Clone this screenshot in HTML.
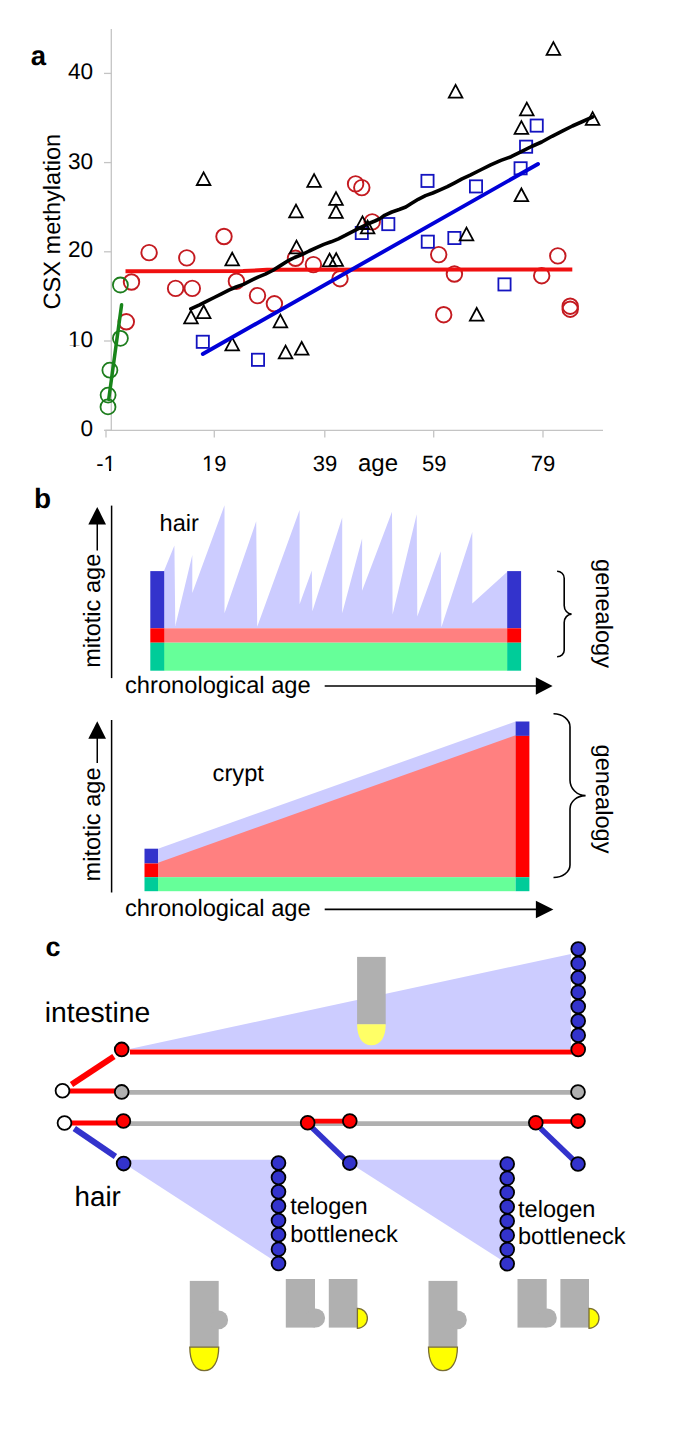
<!DOCTYPE html>
<html><head><meta charset="utf-8"><title>Figure</title>
<style>
html,body{margin:0;padding:0;background:#fff;}
body{width:685px;height:1439px;overflow:hidden;}
svg{display:block;font-family:"Liberation Sans",sans-serif;text-rendering:geometricPrecision;}
</style></head>
<body>
<svg width="685" height="1439" viewBox="0 0 685 1439">
<rect width="685" height="1439" fill="#fff"/>
<g id="pa"><line x1="111.3" y1="29" x2="111.3" y2="430.3" stroke="#c4c4c4" stroke-width="1.3"/>
<line x1="105.5" y1="430.3" x2="603" y2="430.3" stroke="#c4c4c4" stroke-width="1.3"/>
<line x1="104" y1="73.4" x2="111.3" y2="73.4" stroke="#c4c4c4" stroke-width="1.3"/>
<line x1="104" y1="162.6" x2="111.3" y2="162.6" stroke="#c4c4c4" stroke-width="1.3"/>
<line x1="104" y1="251.8" x2="111.3" y2="251.8" stroke="#c4c4c4" stroke-width="1.3"/>
<line x1="104" y1="341" x2="111.3" y2="341" stroke="#c4c4c4" stroke-width="1.3"/>
<line x1="104" y1="430.3" x2="111.3" y2="430.3" stroke="#c4c4c4" stroke-width="1.3"/>
<line x1="106" y1="430.3" x2="106" y2="437.5" stroke="#c4c4c4" stroke-width="1.3"/>
<line x1="214.3" y1="430.3" x2="214.3" y2="437.5" stroke="#c4c4c4" stroke-width="1.3"/>
<line x1="324.8" y1="430.3" x2="324.8" y2="437.5" stroke="#c4c4c4" stroke-width="1.3"/>
<line x1="433.7" y1="430.3" x2="433.7" y2="437.5" stroke="#c4c4c4" stroke-width="1.3"/>
<line x1="543" y1="430.3" x2="543" y2="437.5" stroke="#c4c4c4" stroke-width="1.3"/>
<text x="67.96" y="79.20" font-size="22.6">40</text>
<text x="67.96" y="168.50" font-size="22.6">30</text>
<text x="67.96" y="257.40" font-size="22.6">20</text>
<text x="67.96" y="347.20" font-size="22.6">10</text><rect x="68.40" y="345.32" width="5.15" height="2.78" fill="#fff"/><rect x="75.73" y="345.32" width="5.03" height="2.78" fill="#fff"/>
<text x="80.53" y="436.20" font-size="22.6">0</text>
<text x="96.22" y="470.50" font-size="22">-1</text><rect x="103.98" y="468.67" width="5.02" height="2.73" fill="#fff"/><rect x="111.11" y="468.67" width="4.90" height="2.73" fill="#fff"/>
<text x="202.06" y="470.50" font-size="22">19</text><rect x="202.49" y="468.67" width="5.02" height="2.73" fill="#fff"/><rect x="209.63" y="468.67" width="4.90" height="2.73" fill="#fff"/>
<text x="312.76" y="470.50" font-size="22">39</text>
<text x="421.96" y="470.50" font-size="22">59</text>
<text x="530.76" y="470.50" font-size="22">79</text>
<text x="358" y="471" font-size="24">age</text>
<text transform="translate(60,309.5) rotate(-90)" font-size="23.6">CSX methylation</text>
<text x="30.8" y="65" font-size="27.5" font-weight="bold">a</text>
<circle cx="149.1" cy="252.6" r="7.75" fill="none" stroke="#c41a20" stroke-width="1.9"/>
<circle cx="186.8" cy="257.9" r="7.75" fill="none" stroke="#c41a20" stroke-width="1.9"/>
<circle cx="224" cy="236.5" r="7.75" fill="none" stroke="#c41a20" stroke-width="1.9"/>
<circle cx="131.5" cy="282" r="7.75" fill="none" stroke="#c41a20" stroke-width="1.9"/>
<circle cx="175.6" cy="288.4" r="7.75" fill="none" stroke="#c41a20" stroke-width="1.9"/>
<circle cx="192.3" cy="288.4" r="7.75" fill="none" stroke="#c41a20" stroke-width="1.9"/>
<circle cx="236.4" cy="281.2" r="7.75" fill="none" stroke="#c41a20" stroke-width="1.9"/>
<circle cx="257.5" cy="295.6" r="7.75" fill="none" stroke="#c41a20" stroke-width="1.9"/>
<circle cx="126.3" cy="321.8" r="7.75" fill="none" stroke="#c41a20" stroke-width="1.9"/>
<circle cx="295.5" cy="258.3" r="7.75" fill="none" stroke="#c41a20" stroke-width="1.9"/>
<circle cx="313.4" cy="264.6" r="7.75" fill="none" stroke="#c41a20" stroke-width="1.9"/>
<circle cx="340" cy="278.7" r="7.75" fill="none" stroke="#c41a20" stroke-width="1.9"/>
<circle cx="274.4" cy="303.8" r="7.75" fill="none" stroke="#c41a20" stroke-width="1.9"/>
<circle cx="372.2" cy="221.9" r="7.75" fill="none" stroke="#c41a20" stroke-width="1.9"/>
<circle cx="438.7" cy="254.6" r="7.75" fill="none" stroke="#c41a20" stroke-width="1.9"/>
<circle cx="454.4" cy="274" r="7.75" fill="none" stroke="#c41a20" stroke-width="1.9"/>
<circle cx="443.7" cy="314.7" r="7.75" fill="none" stroke="#c41a20" stroke-width="1.9"/>
<circle cx="541.7" cy="275.7" r="7.75" fill="none" stroke="#c41a20" stroke-width="1.9"/>
<circle cx="557.8" cy="255.9" r="7.75" fill="none" stroke="#c41a20" stroke-width="1.9"/>
<circle cx="570.2" cy="306.2" r="7.75" fill="none" stroke="#c41a20" stroke-width="1.9"/>
<circle cx="570.2" cy="309.2" r="7.75" fill="none" stroke="#c41a20" stroke-width="1.9"/>
<circle cx="355.6" cy="183.9" r="7.75" fill="none" stroke="#c41a20" stroke-width="1.9"/>
<circle cx="361.8" cy="187.6" r="7.75" fill="none" stroke="#c41a20" stroke-width="1.9"/>
<circle cx="120.4" cy="285" r="7.5" fill="none" stroke="#1d7d1d" stroke-width="1.8"/>
<circle cx="120.4" cy="338.3" r="7.5" fill="none" stroke="#1d7d1d" stroke-width="1.8"/>
<circle cx="109.9" cy="370.2" r="7.5" fill="none" stroke="#1d7d1d" stroke-width="1.8"/>
<circle cx="108.1" cy="395.1" r="7.5" fill="none" stroke="#1d7d1d" stroke-width="1.8"/>
<circle cx="108" cy="406.9" r="7.5" fill="none" stroke="#1d7d1d" stroke-width="1.8"/>
<rect x="196.7" y="335.7" width="12.2" height="12.2" fill="none" stroke="#1414c0" stroke-width="1.8"/>
<rect x="251.9" y="353.7" width="12.2" height="12.2" fill="none" stroke="#1414c0" stroke-width="1.8"/>
<rect x="355.7" y="226.9" width="12.2" height="12.2" fill="none" stroke="#1414c0" stroke-width="1.8"/>
<rect x="382.2" y="218" width="12.2" height="12.2" fill="none" stroke="#1414c0" stroke-width="1.8"/>
<rect x="421.7" y="235.6" width="12.2" height="12.2" fill="none" stroke="#1414c0" stroke-width="1.8"/>
<rect x="421.4" y="174.8" width="12.2" height="12.2" fill="none" stroke="#1414c0" stroke-width="1.8"/>
<rect x="448.3" y="231.9" width="12.2" height="12.2" fill="none" stroke="#1414c0" stroke-width="1.8"/>
<rect x="498.4" y="278.3" width="12.2" height="12.2" fill="none" stroke="#1414c0" stroke-width="1.8"/>
<rect x="530.6" y="119.5" width="12.2" height="12.2" fill="none" stroke="#1414c0" stroke-width="1.8"/>
<rect x="520" y="140.6" width="12.2" height="12.2" fill="none" stroke="#1414c0" stroke-width="1.8"/>
<rect x="514.5" y="162.2" width="12.2" height="12.2" fill="none" stroke="#1414c0" stroke-width="1.8"/>
<rect x="469.9" y="180.3" width="12.2" height="12.2" fill="none" stroke="#1414c0" stroke-width="1.8"/>
<path d="M203.6,172.3 L210.4,185 L196.8,185 Z" fill="none" stroke="#000" stroke-width="1.8" stroke-linejoin="miter"/>
<path d="M232.2,252.7 L239,265.4 L225.4,265.4 Z" fill="none" stroke="#000" stroke-width="1.8" stroke-linejoin="miter"/>
<path d="M191,310.7 L197.8,323.4 L184.2,323.4 Z" fill="none" stroke="#000" stroke-width="1.8" stroke-linejoin="miter"/>
<path d="M203.7,305.5 L210.5,318.2 L196.9,318.2 Z" fill="none" stroke="#000" stroke-width="1.8" stroke-linejoin="miter"/>
<path d="M232.2,337.7 L239,350.4 L225.4,350.4 Z" fill="none" stroke="#000" stroke-width="1.8" stroke-linejoin="miter"/>
<path d="M296,204.7 L302.8,217.4 L289.2,217.4 Z" fill="none" stroke="#000" stroke-width="1.8" stroke-linejoin="miter"/>
<path d="M336,192.2 L342.8,204.9 L329.2,204.9 Z" fill="none" stroke="#000" stroke-width="1.8" stroke-linejoin="miter"/>
<path d="M336,205.2 L342.8,217.9 L329.2,217.9 Z" fill="none" stroke="#000" stroke-width="1.8" stroke-linejoin="miter"/>
<path d="M296.5,240.7 L303.3,253.4 L289.7,253.4 Z" fill="none" stroke="#000" stroke-width="1.8" stroke-linejoin="miter"/>
<path d="M329.6,253.6 L336.4,266.3 L322.8,266.3 Z" fill="none" stroke="#000" stroke-width="1.8" stroke-linejoin="miter"/>
<path d="M336.2,253.2 L343,265.9 L329.4,265.9 Z" fill="none" stroke="#000" stroke-width="1.8" stroke-linejoin="miter"/>
<path d="M362.5,216.3 L369.3,229 L355.7,229 Z" fill="none" stroke="#000" stroke-width="1.8" stroke-linejoin="miter"/>
<path d="M367.6,220.7 L374.4,233.4 L360.8,233.4 Z" fill="none" stroke="#000" stroke-width="1.8" stroke-linejoin="miter"/>
<path d="M280.4,314.7 L287.2,327.4 L273.6,327.4 Z" fill="none" stroke="#000" stroke-width="1.8" stroke-linejoin="miter"/>
<path d="M285.6,345.7 L292.4,358.4 L278.8,358.4 Z" fill="none" stroke="#000" stroke-width="1.8" stroke-linejoin="miter"/>
<path d="M301.7,342 L308.5,354.7 L294.9,354.7 Z" fill="none" stroke="#000" stroke-width="1.8" stroke-linejoin="miter"/>
<path d="M314.1,174.2 L320.9,186.9 L307.3,186.9 Z" fill="none" stroke="#000" stroke-width="1.8" stroke-linejoin="miter"/>
<path d="M466.5,227.7 L473.3,240.4 L459.7,240.4 Z" fill="none" stroke="#000" stroke-width="1.8" stroke-linejoin="miter"/>
<path d="M476.7,308 L483.5,320.7 L469.9,320.7 Z" fill="none" stroke="#000" stroke-width="1.8" stroke-linejoin="miter"/>
<path d="M553.4,42.1 L560.2,54.8 L546.6,54.8 Z" fill="none" stroke="#000" stroke-width="1.8" stroke-linejoin="miter"/>
<path d="M455.6,84.9 L462.4,97.6 L448.8,97.6 Z" fill="none" stroke="#000" stroke-width="1.8" stroke-linejoin="miter"/>
<path d="M526.8,102.7 L533.6,115.4 L520,115.4 Z" fill="none" stroke="#000" stroke-width="1.8" stroke-linejoin="miter"/>
<path d="M521.4,121.2 L528.2,133.9 L514.6,133.9 Z" fill="none" stroke="#000" stroke-width="1.8" stroke-linejoin="miter"/>
<path d="M592.6,112.2 L599.4,124.9 L585.8,124.9 Z" fill="none" stroke="#000" stroke-width="1.8" stroke-linejoin="miter"/>
<path d="M521.4,188.5 L528.2,201.2 L514.6,201.2 Z" fill="none" stroke="#000" stroke-width="1.8" stroke-linejoin="miter"/>
<polyline points="125.5,271.2 243,271.1 267,269.8 572.3,269.5" fill="none" stroke="#f01010" stroke-width="4"/>
<line x1="121.6" y1="304.8" x2="108.7" y2="399.5" stroke="#18851a" stroke-width="3.5" stroke-linecap="round"/>
<line x1="202.8" y1="354" x2="538" y2="164" stroke="#0000d8" stroke-width="3.9" stroke-linecap="round"/>
<polyline points="190.8,308.9 199.6,304.8 206.9,301.2 214.2,297.5 221.5,293.9 228.8,290.2 236.1,287 243.4,284.4 250.7,280.7 258,277.1 265.3,274.2 272.6,270.5 280,265.9 287.3,261.2 294.6,257.5 301.9,254.6 309.2,251 316.5,247.6 323.8,244.4 331.1,241.8 338.4,238.8 345.7,235.2 353,231.3 360.3,227.6 367.6,224 374.9,221 380,218.6 384.6,215.3 391.9,212 399.2,209.5 405.8,207 410.9,203.7 418.2,199.3 425.5,195.6 432.8,193 440.1,189.8 447.4,186.6 454.7,182.8 462,178.8 470.2,175.1 480.4,170 490.7,164.9 500.9,160.4 511.1,156.7 521.3,151.6 531.5,146.5 541.7,142 552,136.3 562.2,131.1 572.4,126 582.6,121.5 592.8,116.8" fill="none" stroke="#000" stroke-width="3.6" stroke-linejoin="round" stroke-linecap="round"/></g>
<g id="pb"><text x="34" y="508" font-size="28" font-weight="bold">b</text>
<polygon points="164.1,628.3 164.1,570.8 174.4,545.4 175.3,626 192.3,555 192.3,593 224.5,505.3 224.5,613.2 256.2,521.3 257.2,626.7 299.6,510.1 299.6,604.2 311.8,570.5 312.4,611.2 342.2,517.5 342.2,613.2 362.1,538.4 362.1,590.7 392,511.7 392.6,614.5 416.7,514.3 417.3,616.4 440.8,551.2 441.4,627.3 472.3,532 472.3,603.5 507.6,571.5 507.6,628.3" fill="#ccccff"/>
<rect x="164" y="628.3" width="343.5" height="14.4" fill="#ff8080"/>
<rect x="164" y="642.7" width="343.5" height="28" fill="#66ff99"/>
<rect x="150.3" y="571.1" width="13.9" height="57.2" fill="#3333cc"/>
<rect x="150.3" y="628.3" width="13.9" height="14.4" fill="#ff0000"/>
<rect x="150.3" y="642.7" width="13.9" height="28" fill="#00cc99"/>
<rect x="507.2" y="571.1" width="13.9" height="57.2" fill="#3333cc"/>
<rect x="507.2" y="628.3" width="13.9" height="14.4" fill="#ff0000"/>
<rect x="507.2" y="642.7" width="13.9" height="28" fill="#00cc99"/>
<line x1="111.6" y1="505.6" x2="111.6" y2="678.1" stroke="#000" stroke-width="1.5"/>
<line x1="97.25" y1="520" x2="97.25" y2="550.5" stroke="#000" stroke-width="1.5"/>
<path d="M97.25,506.9 L106,524.4 L88.3,524.4 Z" fill="#000"/>
<text transform="translate(100,667.8) rotate(-90)" font-size="23.6">mitotic age</text>
<text x="159.6" y="531.1" font-size="23.6">hair</text>
<text x="125" y="693.4" font-size="23.7">chronological age</text>
<line x1="324.7" y1="686" x2="540" y2="686" stroke="#000" stroke-width="1.6"/>
<path d="M552.6,686 L535.8,677.2 L535.8,694.7 Z" fill="#000"/>
<path d="M557.1,571.2 C561,571.2 564.2,574.3 564.2,578.2 L564.2,605.5 C564.2,610.2 567.5,614.1 571.6,614.1 C567.5,614.1 564.2,618 564.2,622.5 L564.2,650.2 C564.2,654 561,656.7 557.1,656.7" fill="none" stroke="#000" stroke-width="1.6"/>
<text transform="translate(596.3,559.1) rotate(90)" font-size="23.6">genealogy</text>
<polygon points="158,848.7 515.6,721.5 515.6,877.2 158,877.2" fill="#ccccff"/>
<polygon points="158,862.8 515.6,735.3 515.6,877.2 158,877.2" fill="#ff8080"/>
<rect x="158" y="877.2" width="357.6" height="14" fill="#66ff99"/>
<rect x="144.5" y="848.7" width="13.5" height="14.8" fill="#3333cc"/>
<rect x="144.5" y="863.5" width="13.5" height="13.7" fill="#ff0000"/>
<rect x="144.5" y="877.2" width="13.5" height="14" fill="#00cc99"/>
<rect x="515.6" y="721.5" width="13.8" height="14.4" fill="#3333cc"/>
<rect x="515.6" y="735.9" width="13.8" height="141.3" fill="#ff0000"/>
<rect x="515.6" y="877.2" width="13.8" height="14" fill="#00cc99"/>
<line x1="111.6" y1="720" x2="111.6" y2="892.5" stroke="#000" stroke-width="1.5"/>
<line x1="97.25" y1="735" x2="97.25" y2="763" stroke="#000" stroke-width="1.5"/>
<path d="M97.25,721.3 L106,738.8 L88.3,738.8 Z" fill="#000"/>
<text transform="translate(100,881.5) rotate(-90)" font-size="23.6">mitotic age</text>
<text x="212.6" y="780.5" font-size="23.7">crypt</text>
<text x="125" y="916.4" font-size="23.7">chronological age</text>
<line x1="324.7" y1="909.4" x2="540" y2="909.4" stroke="#000" stroke-width="1.6"/>
<path d="M553.4,909.4 L535.9,900.8 L535.9,918.3 Z" fill="#000"/>
<path d="M553.5,713.8 C562.6,713.8 570,719.8 570,727 L570,780 C570,788.6 577,795.6 585.6,795.6 C577,795.6 570,801.5 570,809 L570,865 C570,871.9 562.6,877.5 553.5,877.5" fill="none" stroke="#000" stroke-width="1.6"/>
<text transform="translate(596.3,744.6) rotate(90)" font-size="23.6">genealogy</text></g>
<g id="pc"><text x="45.5" y="956.3" font-size="27" font-weight="bold">c</text>
<text x="44.8" y="1021.5" font-size="28.3">intestine</text>
<text x="74.5" y="1206.2" font-size="27.8">hair</text>
<polygon points="129.5,1049 571,953.9 571,1049" fill="#ccccff"/>
<rect x="357.1" y="956.9" width="28.6" height="67.6" fill="#b0b0b0"/>
<path d="M357.1,1024.3 C357.1,1037.3 362.2,1045.3 371.4,1045.3 C380.6,1045.3 385.7,1037.3 385.7,1024.3 Z" fill="#ffff66"/>
<line x1="130" y1="1051.9" x2="576" y2="1051.9" stroke="#ff0000" stroke-width="5"/>
<line x1="71.5" y1="1084.4" x2="113.9" y2="1056.6" stroke="#ff0000" stroke-width="6"/>
<line x1="68" y1="1090.9" x2="116" y2="1090.9" stroke="#ff0000" stroke-width="5"/>
<line x1="126" y1="1092.4" x2="572" y2="1092.4" stroke="#b0b0b0" stroke-width="4.8"/>
<line x1="128" y1="1123.6" x2="530" y2="1123.6" stroke="#b0b0b0" stroke-width="4.8"/>
<line x1="70" y1="1122.9" x2="117" y2="1122.9" stroke="#ff0000" stroke-width="5"/>
<line x1="307.7" y1="1121.2" x2="349.8" y2="1121.2" stroke="#ff0000" stroke-width="4.7"/>
<line x1="535.8" y1="1121.5" x2="578" y2="1121.5" stroke="#ff0000" stroke-width="4.7"/>
<line x1="74.3" y1="1128.4" x2="115.4" y2="1156.5" stroke="#3333cc" stroke-width="6"/>
<line x1="312.4" y1="1128" x2="345.1" y2="1159.6" stroke="#3333cc" stroke-width="5.5"/>
<line x1="540.7" y1="1128.5" x2="573" y2="1159.6" stroke="#3333cc" stroke-width="5.5"/>
<polygon points="123.8,1159.8 278.5,1159.8 278.5,1263.5 123.8,1163.3" fill="#ccccff"/>
<polygon points="349.8,1159.8 507.2,1159.8 507.2,1263.8 349.8,1163.1" fill="#ccccff"/>
<circle cx="578.2" cy="949" r="6.9" fill="#3333cc" stroke="#000" stroke-width="1.8"/>
<circle cx="578.2" cy="963.4" r="6.9" fill="#3333cc" stroke="#000" stroke-width="1.8"/>
<circle cx="578.2" cy="977.8" r="6.9" fill="#3333cc" stroke="#000" stroke-width="1.8"/>
<circle cx="578.2" cy="992.2" r="6.9" fill="#3333cc" stroke="#000" stroke-width="1.8"/>
<circle cx="578.2" cy="1006.5" r="6.9" fill="#3333cc" stroke="#000" stroke-width="1.8"/>
<circle cx="578.2" cy="1020.9" r="6.9" fill="#3333cc" stroke="#000" stroke-width="1.8"/>
<circle cx="578.2" cy="1035.2" r="6.9" fill="#3333cc" stroke="#000" stroke-width="1.8"/>
<circle cx="578.2" cy="1049.5" r="6.9" fill="#ff0000" stroke="#000" stroke-width="1.8"/>
<circle cx="121.7" cy="1049.4" r="6.9" fill="#ff0000" stroke="#000" stroke-width="1.8"/>
<circle cx="62.5" cy="1090.7" r="6.9" fill="#ffffff" stroke="#000" stroke-width="1.8"/>
<circle cx="121.7" cy="1091.9" r="6.9" fill="#b0b0b0" stroke="#000" stroke-width="1.8"/>
<circle cx="578" cy="1092.1" r="6.9" fill="#b0b0b0" stroke="#000" stroke-width="1.8"/>
<circle cx="64.5" cy="1123" r="6.9" fill="#ffffff" stroke="#000" stroke-width="1.8"/>
<circle cx="123.4" cy="1121" r="6.9" fill="#ff0000" stroke="#000" stroke-width="1.8"/>
<circle cx="123.6" cy="1163.6" r="6.9" fill="#3333cc" stroke="#000" stroke-width="1.8"/>
<circle cx="307.7" cy="1122.7" r="6.9" fill="#ff0000" stroke="#000" stroke-width="1.8"/>
<circle cx="349.8" cy="1121" r="6.9" fill="#ff0000" stroke="#000" stroke-width="1.8"/>
<circle cx="349.8" cy="1163.1" r="6.9" fill="#3333cc" stroke="#000" stroke-width="1.8"/>
<circle cx="535.8" cy="1122.8" r="6.9" fill="#ff0000" stroke="#000" stroke-width="1.8"/>
<circle cx="578" cy="1121.1" r="6.9" fill="#ff0000" stroke="#000" stroke-width="1.8"/>
<circle cx="578" cy="1164" r="6.9" fill="#3333cc" stroke="#000" stroke-width="1.8"/>
<circle cx="278.5" cy="1163.1" r="6.9" fill="#3333cc" stroke="#000" stroke-width="1.8"/>
<circle cx="507.2" cy="1164" r="6.9" fill="#3333cc" stroke="#000" stroke-width="1.8"/>
<circle cx="278.5" cy="1177.4" r="6.9" fill="#3333cc" stroke="#000" stroke-width="1.8"/>
<circle cx="507.2" cy="1178.2" r="6.9" fill="#3333cc" stroke="#000" stroke-width="1.8"/>
<circle cx="278.5" cy="1191.8" r="6.9" fill="#3333cc" stroke="#000" stroke-width="1.8"/>
<circle cx="507.2" cy="1192.5" r="6.9" fill="#3333cc" stroke="#000" stroke-width="1.8"/>
<circle cx="278.5" cy="1206.1" r="6.9" fill="#3333cc" stroke="#000" stroke-width="1.8"/>
<circle cx="507.2" cy="1206.8" r="6.9" fill="#3333cc" stroke="#000" stroke-width="1.8"/>
<circle cx="278.5" cy="1220.5" r="6.9" fill="#3333cc" stroke="#000" stroke-width="1.8"/>
<circle cx="507.2" cy="1221" r="6.9" fill="#3333cc" stroke="#000" stroke-width="1.8"/>
<circle cx="278.5" cy="1234.8" r="6.9" fill="#3333cc" stroke="#000" stroke-width="1.8"/>
<circle cx="507.2" cy="1235.2" r="6.9" fill="#3333cc" stroke="#000" stroke-width="1.8"/>
<circle cx="278.5" cy="1249.2" r="6.9" fill="#3333cc" stroke="#000" stroke-width="1.8"/>
<circle cx="507.2" cy="1249.5" r="6.9" fill="#3333cc" stroke="#000" stroke-width="1.8"/>
<circle cx="278.5" cy="1263.5" r="6.9" fill="#3333cc" stroke="#000" stroke-width="1.8"/>
<circle cx="507.2" cy="1263.8" r="6.9" fill="#3333cc" stroke="#000" stroke-width="1.8"/>
<text x="290.2" y="1213.8" font-size="23.6">telogen</text>
<text x="290.2" y="1241.8" font-size="23.6">bottleneck</text>
<text x="518" y="1217.1" font-size="23.6">telogen</text>
<text x="518" y="1244.3" font-size="23.6">bottleneck</text>
<rect x="189.8" y="1280.9" width="28.9" height="66.5" fill="#b0b0b0"/><circle cx="218.7" cy="1319.9" r="9.4" fill="#b0b0b0"/><path d="M189.8,1347.2 C189.8,1361.7 195.3,1370.6 204.2,1370.6 C213.2,1370.6 218.7,1361.7 218.7,1347.2 Z" fill="#ffff00" stroke="#7a6e32" stroke-width="1.3"/>
<rect x="285.8" y="1279" width="29.2" height="48.6" fill="#b0b0b0"/><circle cx="315.5" cy="1318" r="9.6" fill="#b0b0b0"/>
<rect x="328.8" y="1279" width="28.6" height="48.6" fill="#b0b0b0"/><path d="M357.4,1308.3 A10,10 0 0 1 357.4,1328.3 Z" fill="#ffff00" stroke="#7a6e32" stroke-width="1.3"/>
<rect x="428.5" y="1280.9" width="28.9" height="66.5" fill="#b0b0b0"/><circle cx="457.4" cy="1319.9" r="9.4" fill="#b0b0b0"/><path d="M428.5,1347.2 C428.5,1361.7 434,1370.6 442.9,1370.6 C451.9,1370.6 457.4,1361.7 457.4,1347.2 Z" fill="#ffff00" stroke="#7a6e32" stroke-width="1.3"/>
<rect x="517.5" y="1279" width="29.2" height="48.6" fill="#b0b0b0"/><circle cx="547.2" cy="1318" r="9.6" fill="#b0b0b0"/>
<rect x="560.4" y="1279" width="28.6" height="48.6" fill="#b0b0b0"/><path d="M589,1308.3 A10,10 0 0 1 589,1328.3 Z" fill="#ffff00" stroke="#7a6e32" stroke-width="1.3"/></g>
</svg>
</body></html>
